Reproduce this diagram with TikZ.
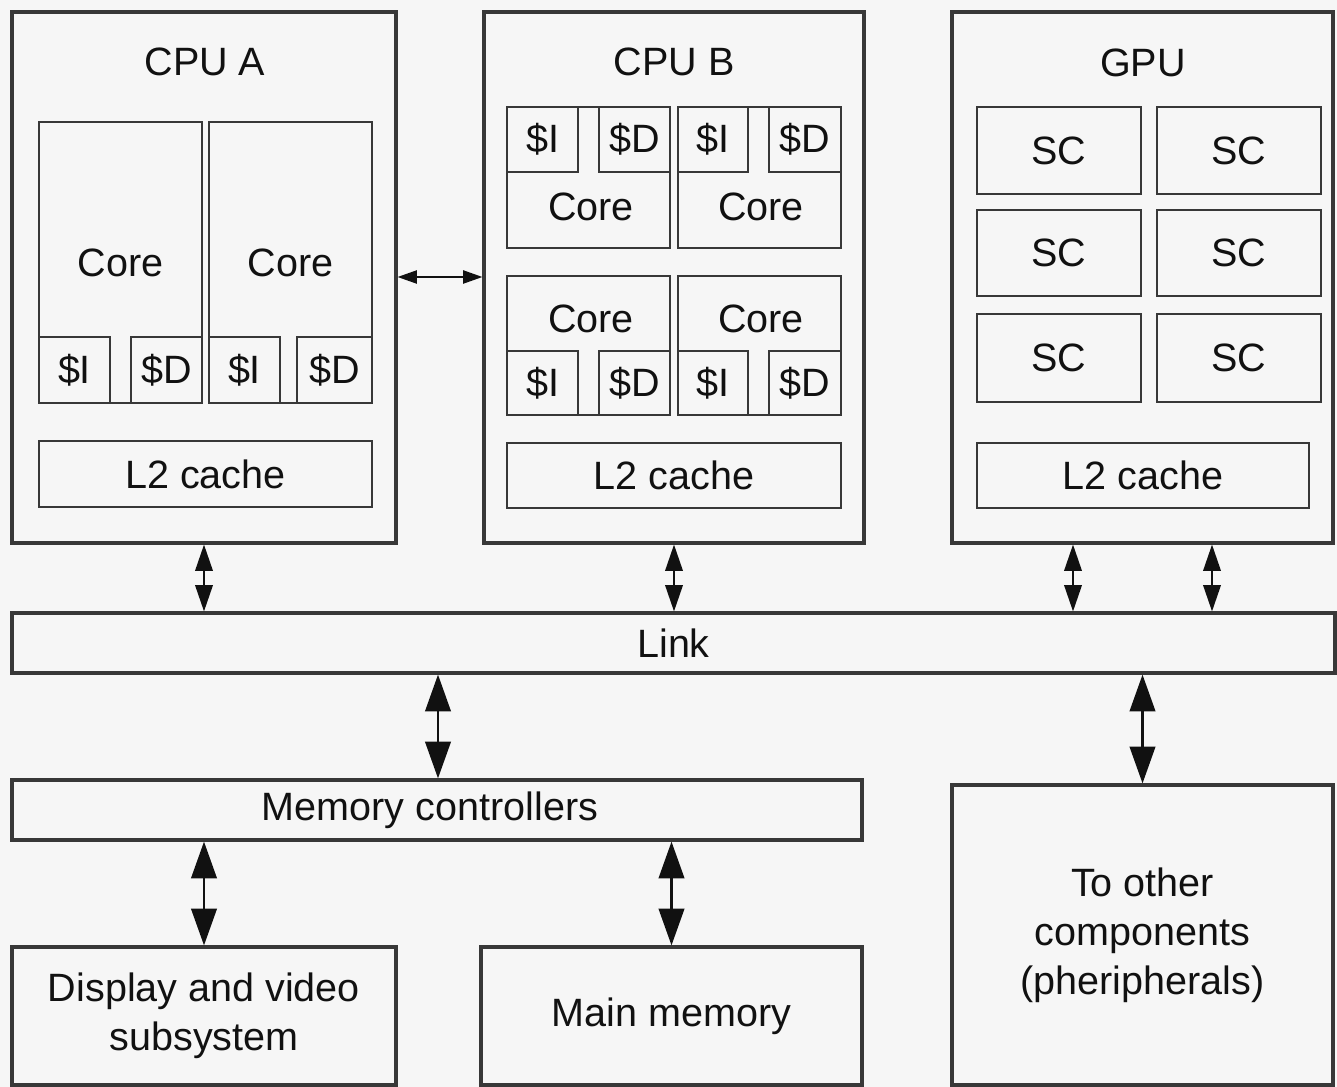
\documentclass[tikz,border=0pt]{standalone}
\usepackage{fontspec}
\setmainfont{Liberation Sans}
\usetikzlibrary{arrows.meta,fit}
\definecolor{bgc}{HTML}{F6F6F6}
\definecolor{linec}{HTML}{383838}
\definecolor{txtc}{HTML}{111111}
\tikzset{
  lbl/.style={font=\fontsize{22.5}{28}\selectfont, text=txtc, align=center},
  outerbox/.style={draw=linec, line width=1.8pt, inner sep=0pt, fill=bgc},
  innerbox/.style={draw=linec, line width=1.4pt, inner sep=0pt, fill=bgc},
  txt/.style={label={[lbl]center:{#1}}},
  sarr/.style={draw=txtc, line width=1pt, <->, >={Triangle[length=15pt,width=10pt]}},
  marr/.style={draw=txtc, line width=1pt, <->, >={Triangle[length=11pt,width=7.5pt]}},
  barr/.style={draw=txtc, line width=1.6pt, <->, >={Triangle[length=21pt,width=14.5pt]}}
}
\begin{document}
\begin{tikzpicture}[x=0.02cm, y=-0.02cm]
\fill[bgc] (0,0) rectangle (1337,1087);
\useasboundingbox (0,0) rectangle (1337,1087);

% ---------- CPU A ----------
\node[outerbox, fit={(12,12) (396,543)}] (cpuA) {};
\node[lbl] (cpuAt) at (205,62) {CPU A};
\node[innerbox, fit={(39,122) (202,403)}, txt=Core] (a1core) {};
\node[innerbox, fit={(209,122) (372,403)}, txt=Core] (a2core) {};
\node[innerbox, fit={(39,337) (110,403)}, txt=\$I] (a1i) {};
\node[innerbox, fit={(131,337) (202,403)}, txt=\$D] (a1d) {};
\node[innerbox, fit={(209,337) (280,403)}, txt=\$I] (a2i) {};
\node[innerbox, fit={(297,337) (372,403)}, txt=\$D] (a2d) {};
\node[innerbox, fit={(39,441) (372,507)}, txt=L2 cache] (aL2) {};

% ---------- CPU B ----------
\node[outerbox, fit={(484,12) (864,543)}] (cpuB) {};
\node[lbl] (cpuBt) at (674,62) {CPU B};
\node[innerbox, fit={(507,107) (670,248)}] (b1core) {};
\node[innerbox, fit={(678,107) (841,248)}] (b2core) {};
\node[innerbox, fit={(507,107) (578,172)}, txt=\$I] (b1i) {};
\node[innerbox, fit={(599,107) (670,172)}, txt=\$D] (b1d) {};
\node[innerbox, fit={(678,107) (748,172)}, txt=\$I] (b2i) {};
\node[innerbox, fit={(769,107) (841,172)}, txt=\$D] (b2d) {};
\node[lbl] (b1t) at (591,207) {Core};
\node[lbl] (b2t) at (761,207) {Core};
\node[innerbox, fit={(507,276) (670,415)}] (b3core) {};
\node[innerbox, fit={(678,276) (841,415)}] (b4core) {};
\node[innerbox, fit={(507,351) (578,415)}, txt=\$I] (b3i) {};
\node[innerbox, fit={(599,351) (670,415)}, txt=\$D] (b3d) {};
\node[innerbox, fit={(678,351) (748,415)}, txt=\$I] (b4i) {};
\node[innerbox, fit={(769,351) (841,415)}, txt=\$D] (b4d) {};
\node[lbl] (b3t) at (591,319) {Core};
\node[lbl] (b4t) at (761,319) {Core};
\node[innerbox, fit={(507,443) (841,508)}, txt=L2 cache] (bL2) {};

% ---------- GPU ----------
\node[outerbox, fit={(952,12) (1333,543)}] (gpu) {};
\node[lbl] (gput) at (1143,63) {GPU};
\node[innerbox, fit={(977,107) (1141,194)}, txt=SC] (sc1) {};
\node[innerbox, fit={(1157,107) (1321,194)}, txt=SC] (sc2) {};
\node[innerbox, fit={(977,210) (1141,296)}, txt=SC] (sc3) {};
\node[innerbox, fit={(1157,210) (1321,296)}, txt=SC] (sc4) {};
\node[innerbox, fit={(977,314) (1141,402)}, txt=SC] (sc5) {};
\node[innerbox, fit={(1157,314) (1321,402)}, txt=SC] (sc6) {};
\node[innerbox, fit={(977,443) (1309,508)}, txt=L2 cache] (gL2) {};

% ---------- Link and lower part ----------
\node[outerbox, fit={(12,613) (1335,673)}, txt=Link] (link) {};
\node[outerbox, fit={(12,780) (862,840)}, label={[lbl, xshift=-0.14cm]center:Memory controllers}] (memc) {};
\node[outerbox, fit={(12,947) (396,1085)}, txt={Display and video\\subsystem}] (disp) {};
\node[outerbox, fit={(481,947) (862,1085)}, txt=Main memory] (mainm) {};
\node[outerbox, fit={(952,785) (1333,1085)}, txt={To other\\components\\(pheripherals)}] (other) {};

% ---------- connectors ----------
\coordinate (hA) at (0,277);
\coordinate (g1) at (1073,0);
\coordinate (g2) at (1212,0);
\coordinate (m1) at (438,0);
\draw[marr] (cpuA.east |- hA) -- (cpuB.west |- hA);
\draw[sarr] (cpuA.south) -- (link.north -| cpuA.south);
\draw[sarr] (cpuB.south) -- (link.north -| cpuB.south);
\draw[sarr] (g1 |- gpu.south) -- (g1 |- link.north);
\draw[sarr] (g2 |- gpu.south) -- (g2 |- link.north);
\draw[barr] (m1 |- link.south) -- (m1 |- memc.north);
\draw[barr] (link.south -| other.north) -- (other.north);
\draw[barr] (memc.south -| disp.north) -- (disp.north);
\draw[barr] (memc.south -| mainm.north) -- (mainm.north);
\end{tikzpicture}
\end{document}
